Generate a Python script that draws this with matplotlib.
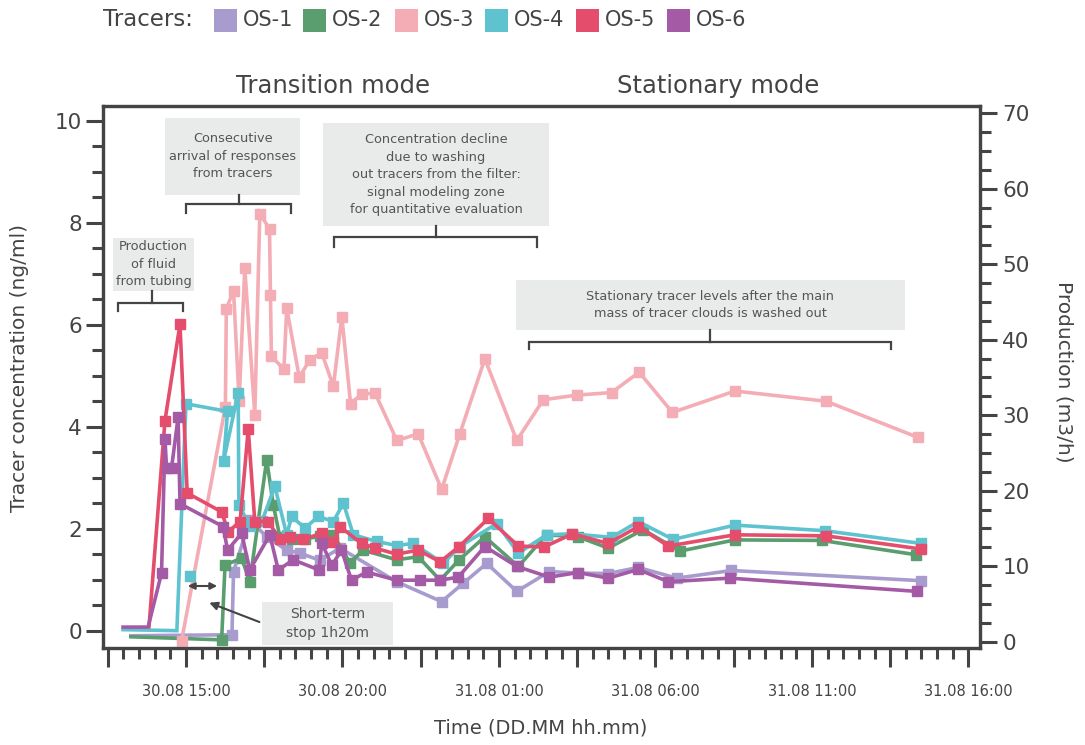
import numpy as np
import matplotlib
matplotlib.use('Agg')
import matplotlib.pyplot as plt
from matplotlib.patches import Rectangle
from matplotlib.ticker import MultipleLocator, FuncFormatter

plt.rcParams['font.family'] = ['DejaVu Sans']

# time in hours from 30.08 00:00, concentration in ng/ml
os1_t = [13.24, 16.47, 16.52, 17.04, 17.58, 18.22, 18.64, 19.28, 19.92, 21.73, 23.17, 23.86,
         24.61, 25.57, 26.61, 27.53, 28.49, 29.45, 30.68, 32.43, 38.50]
os1_v = [-0.10, -0.08, 1.16, 2.17, 1.84, 1.58, 1.52, 1.38, 1.62, 0.96, 0.57, 0.93,
         1.32, 0.77, 1.16, 1.13, 1.12, 1.24, 1.03, 1.18, 0.98]

os2_t = [13.24, 16.14, 16.25, 16.78, 17.04, 17.58, 17.79, 18.00, 18.38, 18.80, 19.28, 19.71,
         20.24, 20.66, 21.73, 22.42, 23.12, 23.73, 24.55, 25.62, 26.52, 27.53, 28.49, 29.61,
         30.78, 32.54, 35.31, 38.32]
os2_v = [-0.12, -0.18, 1.29, 1.42, 0.96, 3.35, 2.47, 1.84, 1.80, 1.80, 1.85, 1.88,
         1.33, 1.58, 1.39, 1.45, 0.99, 1.39, 1.84, 1.26, 1.88, 1.84, 1.62, 1.98,
         1.56, 1.78, 1.77, 1.49]

os3_t = [14.86, 16.26, 16.29, 16.52, 16.70, 16.88, 17.20, 17.36, 17.67, 17.70, 17.73, 18.13,
         18.22, 18.62, 18.96, 19.34, 19.71, 19.98, 20.26, 20.61, 21.04, 21.74, 22.42, 23.17,
         23.75, 24.55, 25.57, 26.42, 27.50, 28.60, 29.48, 30.54, 32.54, 35.45, 38.39]
os3_v = [-0.20, 4.39, 6.31, 6.67, 4.50, 7.11, 4.23, 8.18, 7.88, 6.59, 5.38, 5.13,
         6.33, 4.97, 5.31, 5.45, 4.79, 6.16, 4.45, 4.64, 4.66, 3.73, 3.86, 2.77,
         3.86, 5.33, 3.73, 4.53, 4.62, 4.67, 5.07, 4.28, 4.70, 4.50, 3.79]

os4_t = [12.99, 14.71, 15.00, 16.33, 16.20, 16.67, 16.69, 17.04, 17.43, 17.84, 18.22, 18.38,
         18.80, 19.23, 19.71, 20.03, 20.35, 21.09, 21.73, 22.26, 23.22, 23.75, 24.93, 25.62,
         26.52, 27.32, 28.60, 29.45, 30.57, 32.54, 35.41, 38.50, np.nan, 15.13]
os4_v = [0.02, 0.00, 4.45, 4.30, 3.32, 4.67, 2.47, 2.05, 2.15, 2.83, 1.88, 2.24,
         2.01, 2.24, 2.14, 2.50, 1.88, 1.75, 1.67, 1.71, 1.32, 1.65, 2.10, 1.52,
         1.88, 1.90, 1.83, 2.14, 1.79, 2.07, 1.96, 1.71, np.nan, 1.08]

os5_t = [13.82, 14.33, 14.81, 15.04, 16.14, 16.35, 16.73, 16.99, 17.20, 17.63, 18.00, 18.32,
         18.75, 19.34, 19.71, 19.92, 20.61, 21.04, 21.73, 22.42, 23.12, 23.73, 24.66, 25.62,
         26.44, 27.35, 28.49, 29.45, 30.41, 32.54, 35.45, 38.50]
os5_v = [0.08, 4.12, 6.01, 2.70, 2.33, 1.94, 2.14, 3.95, 2.14, 2.14, 1.79, 1.83,
         1.79, 1.91, 1.73, 2.04, 1.71, 1.62, 1.50, 1.58, 1.35, 1.65, 2.20, 1.66,
         1.64, 1.90, 1.71, 2.04, 1.66, 1.88, 1.86, 1.60]

os6_t = [12.99, 13.79, 14.22, 14.33, 14.38, 14.54, 14.75, 14.81, 16.19, 16.33, 16.78, 17.04,
         17.68, 17.95, 18.43, 19.25, 19.34, 19.66, 19.97, 20.29, 20.77, 21.73, 22.48, 23.12,
         23.70, 24.55, 25.57, 26.61, 27.53, 28.49, 29.45, 30.41, 32.38, 38.36]
os6_v = [0.07, 0.07, 1.13, 3.76, 3.19, 3.19, 4.19, 2.49, 2.04, 1.58, 1.91, 1.19,
         1.88, 1.19, 1.39, 1.19, 1.72, 1.28, 1.58, 0.99, 1.15, 0.99, 0.99, 0.99,
         1.05, 1.65, 1.26, 1.05, 1.14, 1.03, 1.20, 0.96, 1.03, 0.77]

names = ['OS-1', 'OS-2', 'OS-3', 'OS-4', 'OS-5', 'OS-6']
colors = ['#a89ccf', '#5a9e6f', '#f4adb5', '#5ec3cf', '#e54d6c', '#a45aa5']
series = [(os1_t, os1_v), (os2_t, os2_v), (os3_t, os3_v),
          (os4_t, os4_v), (os5_t, os5_v), (os6_t, os6_v)]
skip_first = [1, 1, 0, 2, 1, 2]

dark = '#444444'
W, H = 1085, 745
fig = plt.figure(figsize=(W / 100, H / 100), dpi=100)
ax = fig.add_axes([103 / W, 1 - 648 / H, 877 / W, 542 / H])

for (t, v), c, s in zip(series, colors, skip_first):
    n = len(t)
    ax.plot(t, v, color=c, lw=2.6, marker='s', ms=7.8,
            markevery=list(range(s, n)), solid_joinstyle='miter', zorder=3)

ax.set_xlim(12.35, 40.37)
ax.set_ylim(-0.34, 10.29)

def fmt_time(h, pos):
    if abs(h % 5) > 1e-6:
        return ''
    day = 30 + int(h // 24)
    return f'{day}.08 {int(h % 24):02d}:00'

ax.xaxis.set_major_locator(MultipleLocator(2.5))
ax.xaxis.set_minor_locator(MultipleLocator(0.5))
ax.xaxis.set_major_formatter(FuncFormatter(fmt_time))
ax.yaxis.set_major_locator(MultipleLocator(2))
ax.yaxis.set_minor_locator(MultipleLocator(0.5))

ax2 = ax.twinx()
ax2.set_ylim(-0.83, 70.95)
ax2.yaxis.set_major_locator(MultipleLocator(10))
ax2.yaxis.set_minor_locator(MultipleLocator(2.5))

for a in (ax, ax2):
    for sp in a.spines.values():
        sp.set_color(dark)
        sp.set_linewidth(2.3)
    a.tick_params(which='major', length=12, width=2.2, color=dark, labelcolor=dark)
    a.tick_params(which='minor', length=8, width=2.2, color=dark)
ax.tick_params(axis='y', labelsize=15.5, pad=3)
ax.tick_params(axis='x', which='major', length=14, labelsize=10.5, pad=12)
ax2.tick_params(axis='y', labelsize=15.5, pad=4)

# annotation boxes and brackets (axes coords)
box_c = '#e9eaea'
txt_c = '#555555'
boxes = [
    ((0.011, 0.659, 0.093, 0.098), 'Production\nof fluid\nfrom tubing'),
    ((0.071, 0.836, 0.154, 0.142), 'Consecutive\narrival of responses\nfrom tracers'),
    ((0.2505, 0.7786, 0.2583, 0.1894), 'Concentration decline\ndue to washing\nout tracers from the filter:\nsignal modeling zone\nfor quantitative evaluation'),
    ((0.4709, 0.5867, 0.4436, 0.0923), 'Stationary tracer levels after the main\nmass of tracer clouds is washed out'),
    ((0.1813, 0.0055, 0.1494, 0.0799), 'Short-term\nstop 1h20m'),
]
for i, ((x0, y0, w, h), s) in enumerate(boxes):
    ax.add_patch(Rectangle((x0, y0), w, h, transform=ax.transAxes, facecolor=box_c,
                           edgecolor='none', zorder=1))
    ax.text(x0 + w / 2, y0 + h / 2, s, transform=ax.transAxes, ha='center', va='center',
            fontsize=10 if i == 4 else 9.3, color=txt_c, linespacing=1.45, zorder=2)

brackets = [
    (0.0174, 0.0916, 0.0554, 0.636, 0.622, 0.659),
    (0.0946, 0.2140, 0.1551, 0.819, 0.803, 0.836),
    (0.2634, 0.4945, 0.3792, 0.7589, 0.7404, 0.7786),
    (0.4860, 0.8982, 0.6921, 0.5651, 0.5517, 0.5867),
]
for xl, xr, xm, yb, ye, yt in brackets:
    ax.plot([xl, xl, xr, xr], [ye, yb, yb, ye], transform=ax.transAxes, color=dark,
            lw=1.6, solid_joinstyle='miter', zorder=2)
    ax.plot([xm, xm], [yb, yt], transform=ax.transAxes, color=dark, lw=1.6, zorder=2)

ax.annotate('', xy=(0.1334, 0.1144), xytext=(0.0935, 0.1144), xycoords='axes fraction',
            arrowprops=dict(arrowstyle='<|-|>', color=dark, lw=1.5, mutation_scale=10))
ax.annotate('', xy=(0.1182, 0.0854), xytext=(0.1813, 0.0461), xycoords='axes fraction',
            arrowprops=dict(arrowstyle='-|>', color=dark, lw=1.5, mutation_scale=12))

# texts around the axes (figure coords)
fig.text(333 / W, 1 - 86 / H, 'Transition mode', ha='center', va='center', fontsize=17.5, color=dark)
fig.text(718 / W, 1 - 86 / H, 'Stationary mode', ha='center', va='center', fontsize=17.5, color=dark)
fig.text(20 / W, 1 - 368 / H, 'Tracer concentration (ng/ml)', rotation=90, ha='center',
         va='center', fontsize=14.5, color=dark)
fig.text(1064 / W, 1 - 372 / H, 'Production (m3/h)', rotation=270, ha='center',
         va='center', fontsize=14.5, color=dark)
fig.text(541 / W, 1 - 728 / H, 'Time (DD.MM hh.mm)', ha='center', va='center',
         fontsize=14, color=dark)

# legend row
fig.text(103 / W, 1 - 20 / H, 'Tracers:', ha='left', va='center', fontsize=16.5, color=dark)
leg_x = [214, 303, 395, 485, 576, 667]
for lx, c, nm in zip(leg_x, colors, names):
    fig.patches.append(Rectangle((lx / W, 1 - 32 / H), 23 / W, 23 / H,
                                 transform=fig.transFigure, facecolor=c, edgecolor='none'))
    fig.text((lx + 29) / W, 1 - 20 / H, nm, ha='left', va='center', fontsize=15, color=dark)

fig.savefig('out.png', dpi=100)
